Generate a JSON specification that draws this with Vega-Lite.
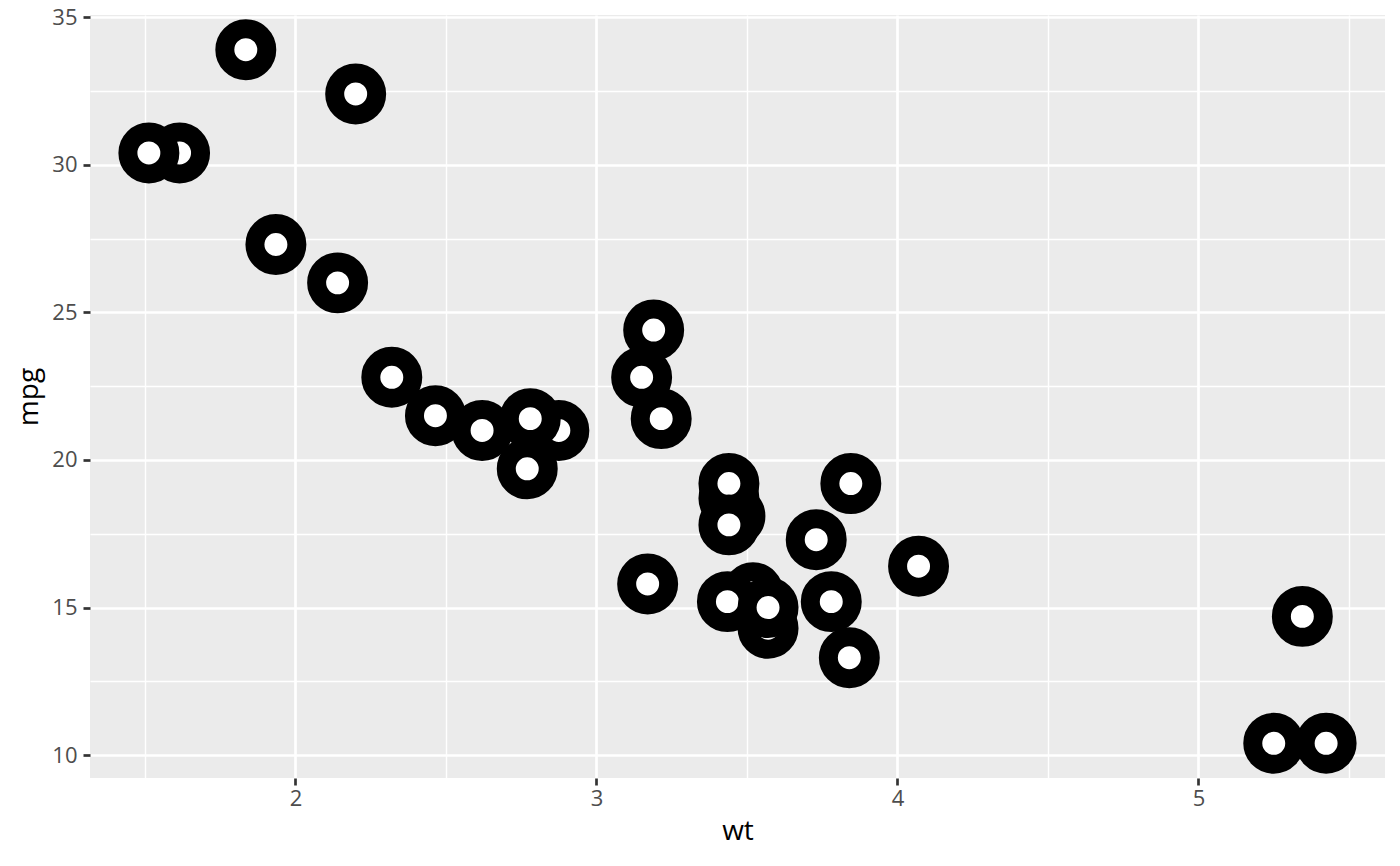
{
  "$schema": "https://vega.github.io/schema/vega-lite/v6.json",
  "width": 1295,
  "height": 763,
  "autosize": "none",
  "padding": {"left": 90, "top": 15, "right": 15, "bottom": 88},
  "background": "white",
  "view": {"fill": "#EBEBEB", "stroke": null},
  "config": {"font": "Open Sans"},
  "data": {"values": [
    {"model": "Mazda RX4", "wt": 2.62, "mpg": 21.0},
    {"model": "Mazda RX4 Wag", "wt": 2.875, "mpg": 21.0},
    {"model": "Datsun 710", "wt": 2.32, "mpg": 22.8},
    {"model": "Hornet 4 Drive", "wt": 3.215, "mpg": 21.4},
    {"model": "Hornet Sportabout", "wt": 3.44, "mpg": 18.7},
    {"model": "Valiant", "wt": 3.46, "mpg": 18.1},
    {"model": "Duster 360", "wt": 3.57, "mpg": 14.3},
    {"model": "Merc 240D", "wt": 3.19, "mpg": 24.4},
    {"model": "Merc 230", "wt": 3.15, "mpg": 22.8},
    {"model": "Merc 280", "wt": 3.44, "mpg": 19.2},
    {"model": "Merc 280C", "wt": 3.44, "mpg": 17.8},
    {"model": "Merc 450SE", "wt": 4.07, "mpg": 16.4},
    {"model": "Merc 450SL", "wt": 3.73, "mpg": 17.3},
    {"model": "Merc 450SLC", "wt": 3.78, "mpg": 15.2},
    {"model": "Cadillac Fleetwood", "wt": 5.25, "mpg": 10.4},
    {"model": "Lincoln Continental", "wt": 5.424, "mpg": 10.4},
    {"model": "Chrysler Imperial", "wt": 5.345, "mpg": 14.7},
    {"model": "Fiat 128", "wt": 2.2, "mpg": 32.4},
    {"model": "Honda Civic", "wt": 1.615, "mpg": 30.4},
    {"model": "Toyota Corolla", "wt": 1.835, "mpg": 33.9},
    {"model": "Toyota Corona", "wt": 2.465, "mpg": 21.5},
    {"model": "Dodge Challenger", "wt": 3.52, "mpg": 15.5},
    {"model": "AMC Javelin", "wt": 3.435, "mpg": 15.2},
    {"model": "Camaro Z28", "wt": 3.84, "mpg": 13.3},
    {"model": "Pontiac Firebird", "wt": 3.845, "mpg": 19.2},
    {"model": "Fiat X1-9", "wt": 1.935, "mpg": 27.3},
    {"model": "Porsche 914-2", "wt": 2.14, "mpg": 26.0},
    {"model": "Lotus Europa", "wt": 1.513, "mpg": 30.4},
    {"model": "Ford Pantera L", "wt": 3.17, "mpg": 15.8},
    {"model": "Ferrari Dino", "wt": 2.77, "mpg": 19.7},
    {"model": "Maserati Bora", "wt": 3.57, "mpg": 15.0},
    {"model": "Volvo 142E", "wt": 2.78, "mpg": 21.4}
  ]},
  "mark": {"type": "circle", "fill": "white", "stroke": "black", "strokeWidth": 19, "size": 1760, "opacity": 1, "fillOpacity": 1, "strokeOpacity": 1},
  "encoding": {
    "x": {
      "field": "wt", "type": "quantitative",
      "scale": {"domain": [1.3174, 5.6196], "nice": false, "zero": false},
      "axis": {
        "title": "wt",
        "values": [1.5, 2, 2.5, 3, 3.5, 4, 4.5, 5, 5.5],
        "labelExpr": "datum.value % 1 === 0 ? format(datum.value, 'd') : ''",
        "domain": false,
        "grid": true,
        "gridColor": "white",
        "gridWidth": {"condition": {"test": "datum.value % 1 === 0", "value": 2.7}, "value": 1.4},
        "tickColor": "#333333",
        "tickWidth": 2.7,
        "tickSize": 7,
        "tickOpacity": {"condition": {"test": "datum.value % 1 === 0", "value": 1}, "value": 0},
        "labelColor": "#4D4D4D",
        "labelFont": "Open Sans",
        "labelFontSize": 22,
        "labelPadding": 3,
        "titleColor": "black",
        "titleFont": "Open Sans",
        "titleFontSize": 28,
        "titleFontWeight": "normal",
        "titlePadding": 8
      }
    },
    "y": {
      "field": "mpg", "type": "quantitative",
      "scale": {"domain": [9.225, 35.075], "nice": false, "zero": false},
      "axis": {
        "title": "mpg",
        "values": [10, 12.5, 15, 17.5, 20, 22.5, 25, 27.5, 30, 32.5, 35],
        "labelExpr": "datum.value % 5 === 0 ? format(datum.value, 'd') : ''",
        "domain": false,
        "grid": true,
        "gridColor": "white",
        "gridWidth": {"condition": {"test": "datum.value % 5 === 0", "value": 2.7}, "value": 1.4},
        "tickColor": "#333333",
        "tickWidth": 2.7,
        "tickSize": 7,
        "tickOpacity": {"condition": {"test": "datum.value % 5 === 0", "value": 1}, "value": 0},
        "labelColor": "#4D4D4D",
        "labelFont": "Open Sans",
        "labelFontSize": 22,
        "labelPadding": 6,
        "titleColor": "black",
        "titleFont": "Open Sans",
        "titleFontSize": 28,
        "titleFontWeight": "normal",
        "titlePadding": 8
      }
    }
  }
}
